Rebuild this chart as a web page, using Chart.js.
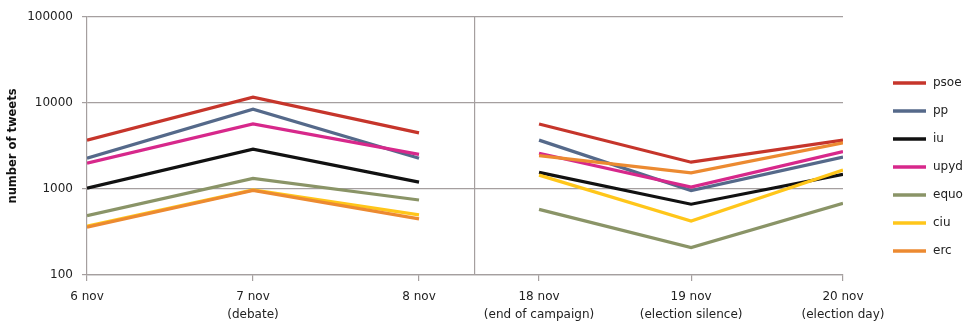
<!DOCTYPE html>
<html>
<head>
<meta charset="utf-8">
<script src="https://cdn.jsdelivr.net/npm/chart.js@4.4.1/dist/chart.umd.min.js"></script>
<style>
html, body { margin: 0; padding: 0; background: #fff; }
</style>
</head>
<body>
<canvas id="tweetsChart" width="966" height="324"></canvas>
<script>
// dias (etiquetas del eje x, dos lineas cuando hace falta)
var days = [
    ['6 nov'],
    ['7 nov', '(debate)'],
    ['8 nov'],
    ['18 nov', '(end of campaign)'],
    ['19 nov', '(election silence)'],
    ['20 nov', '(election day)']
];
var yTicks = [100, 1000, 10000, 100000];

// numero de tweets por partido
var psoe = [3700, 11700, 4500, 5700, 2050, 3700];
var pp   = [2280, 8450, 2280, 3700, 960, 2350];
var iu   = [1020, 2900, 1200, 1560, 665, 1480];
var upyd = [2000, 5700, 2530, 2600, 1050, 2720];
var equo = [490, 1330, 745, 580, 208, 680];
var ciu  = [370, 975, 500, 1450, 425, 1660];
var erc  = [360, 965, 450, 2440, 1540, 3450];

// posiciones en el eje (hueco entre 8 nov y 18 nov)
var slotPos = [0, 1, 2, 2.723, 3.639, 4.554];
var divider = 2.337;
var gridColor = '#a59f9f';

function points(values) {
    var pts = [];
    values.forEach(function(v, i) {
        pts.push({x: slotPos[i], y: v});
        if (i === 2) pts.push({x: divider, y: null});
    });
    return pts;
}

function serie(label, values, color, order) {
    return {
        label: label,
        data: points(values),
        borderColor: color,
        backgroundColor: color,
        borderWidth: 3.2,
        pointRadius: 0,
        tension: 0,
        order: order
    };
}

var lineLegend = {
    id: 'lineLegend',
    afterDraw: function(chart) {
        var ctx = chart.ctx;
        var x0 = chart.chartArea.right + 50;
        ctx.save();
        ctx.font = '12px "DejaVu Sans"';
        ctx.textBaseline = 'middle';
        ctx.textAlign = 'left';
        chart.data.datasets.forEach(function(ds, i) {
            var y = 83 + i * 28;
            ctx.strokeStyle = ds.borderColor;
            ctx.lineWidth = 3.5;
            ctx.beginPath();
            ctx.moveTo(x0, y);
            ctx.lineTo(x0 + 33, y);
            ctx.stroke();
            ctx.fillStyle = '#222';
            ctx.fillText(ds.label, x0 + 40, y);
        });
        ctx.restore();
    }
};

var ctx = document.getElementById('tweetsChart').getContext('2d');
var myChart = new Chart(ctx, {
    type: 'line',
    data: {
        datasets: [
            serie('psoe', psoe, '#c6352b', 7),
            serie('pp', pp, '#55698a', 6),
            serie('iu', iu, '#111111', 5),
            serie('upyd', upyd, '#d7288b', 4),
            serie('equo', equo, '#8a9467', 3),
            serie('ciu', ciu, '#ffc61a', 2),
            serie('erc', erc, '#ec8a31', 1)
        ]
    },
    options: {
        responsive: false,
        animation: false,
        layout: { padding: { left: 0, top: 17, right: 123, bottom: 0 } },
        plugins: {
            legend: { display: false },
            tooltip: { enabled: false }
        },
        scales: {
            x: {
                type: 'linear',
                min: 0,
                max: slotPos[slotPos.length - 1],
                afterBuildTicks: function(scale) {
                    scale.ticks = slotPos.concat([divider]).sort(function(a, b) { return a - b; })
                        .map(function(v) { return {value: v}; });
                },
                afterFit: function(scale) { scale.height = 49; },
                ticks: {
                    autoSkip: false,
                    maxRotation: 0,
                    padding: 7,
                    color: '#222',
                    font: { family: 'DejaVu Sans', size: 12, lineHeight: 1.5 },
                    callback: function(value) {
                        var i = slotPos.indexOf(value);
                        return i < 0 ? '' : days[i];
                    }
                },
                grid: {
                    color: function(c) { return c.tick && c.tick.value === divider ? gridColor : 'rgba(0,0,0,0)'; },
                    tickColor: function(c) { return c.tick && c.tick.value === divider ? 'rgba(0,0,0,0)' : gridColor; },
                    tickLength: 6,
                    lineWidth: 1.2
                },
                border: { color: gridColor, width: 1.2 }
            },
            y: {
                type: 'logarithmic',
                min: 100,
                max: 100000,
                afterBuildTicks: function(scale) {
                    scale.ticks = yTicks.map(function(v) { return {value: v}; });
                },
                afterFit: function(scale) { scale.width = 87; },
                ticks: {
                    padding: 9,
                    color: '#222',
                    font: { family: 'DejaVu Sans', size: 12 },
                    callback: function(value) { return String(value); }
                },
                grid: {
                    color: gridColor,
                    tickLength: 5,
                    lineWidth: 1.2
                },
                border: { color: gridColor, width: 1.2 },
                title: {
                    display: true,
                    text: 'number of tweets',
                    color: '#111',
                    padding: { top: 6, bottom: 0 },
                    font: { family: 'DejaVu Sans', size: 11.5, weight: 'bold' }
                }
            }
        }
    },
    plugins: [lineLegend]
});
</script>
</body>
</html>
